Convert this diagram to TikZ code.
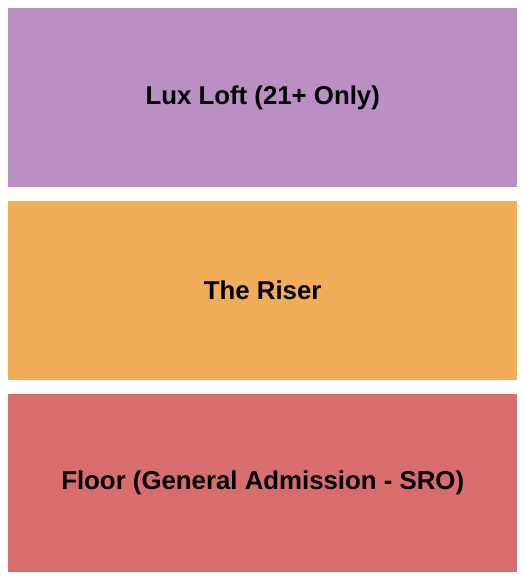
\documentclass[tikz,border=0pt]{standalone}
\usepackage{fontspec}
\setmainfont{Liberation Sans}
\usepackage{xcolor}
\definecolor{luxcol}{HTML}{BA8FC3}
\definecolor{risercol}{HTML}{F2AD58}
\definecolor{floorcol}{HTML}{D76D6D}
\tikzstyle{section} = [rectangle, draw=none, inner sep=0pt, minimum width=509pt, minimum height=179pt, anchor=north west]
\tikzstyle{seclabel} = [font=\fontsize{25.8}{30}\selectfont\bfseries, text=black]

\begin{document}
\begin{tikzpicture}[x=1pt,y=-1pt]
  \useasboundingbox (0,0) rectangle (525,580);
  \node[section, fill=luxcol] (Lux) at (8,8) {};
  \node[section, fill=risercol] (Riser) at (8,201) {};
  \node[section, fill=floorcol, minimum height=178pt] (Floor) at (8,394) {};

  \node[seclabel] (Lux_text) at (Lux.center) {Lux Loft (21+ Only)};
  \node[seclabel] (Riser_text) at (Riser.center) {The Riser};
  \node[seclabel] (Floor_text) at (Floor.center) {Floor (General Admission - SRO)};
\end{tikzpicture}
\end{document}
